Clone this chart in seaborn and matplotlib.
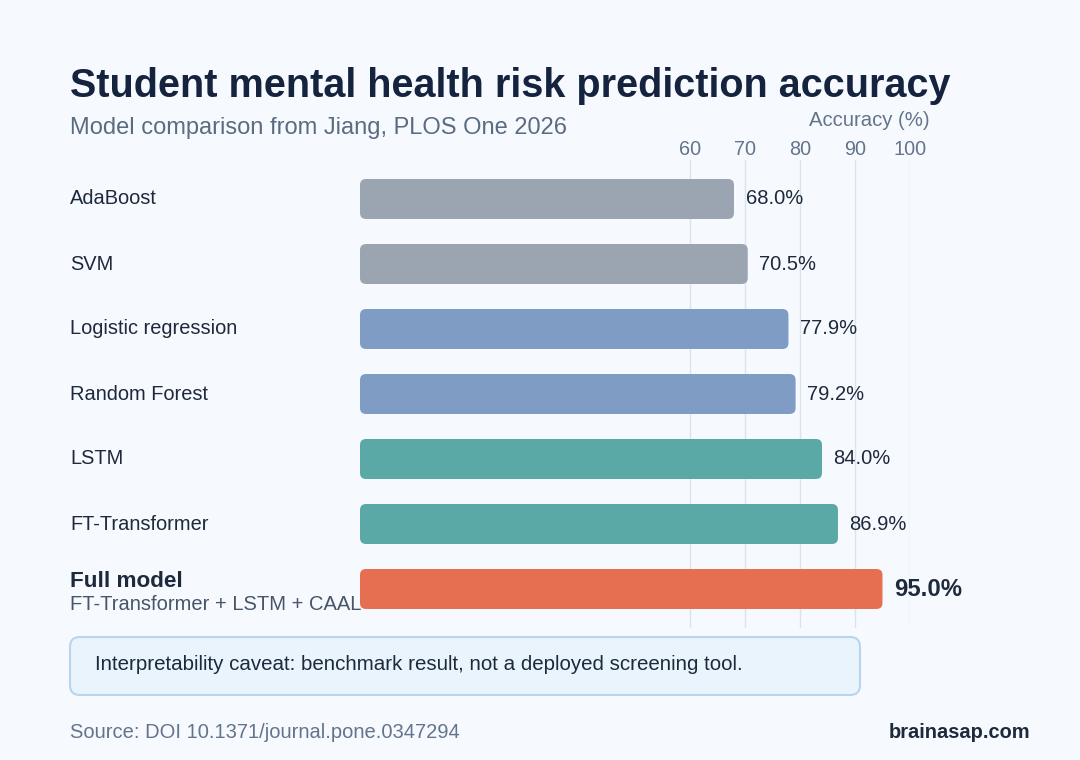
import matplotlib
matplotlib.use("Agg")
import matplotlib.pyplot as plt
import matplotlib.transforms as mtransforms
from matplotlib.patches import FancyBboxPatch
import seaborn as sns
import pandas as pd

models = ["AdaBoost", "SVM", "Logistic regression", "Random Forest", "LSTM",
          "FT-Transformer", "Full model"]
accuracy = [68.0, 70.5, 77.9, 79.2, 84.0, 86.9, 95.0]
bar_colors = ["#9ba5b1", "#9ba5b1", "#7f9cc5", "#7f9cc5", "#5aa9a6", "#5aa9a6", "#e76f51"]
x_ticks = [60, 70, 80, 90, 100]
full_model_sub = "FT-Transformer + LSTM + CAAL"

title = "Student mental health risk prediction accuracy"
subtitle = "Model comparison from Jiang, PLOS One 2026"
axis_label = "Accuracy (%)"
caveat = "Interpretability caveat: benchmark result, not a deployed screening tool."
source = "Source: DOI 10.1371/journal.pone.0347294"
brand = "brainasap.com"

BG = "#f6faff"
DARK = "#1e293b"
GRAY = "#64748b"

sns.set_theme(style="white")
plt.rcParams["font.family"] = ["Liberation Sans", "DejaVu Sans"]

df = pd.DataFrame({"model": models, "acc": accuracy})

fig = plt.figure(figsize=(10.8, 7.6), dpi=100, facecolor=BG)
ax = fig.add_axes([360 / 1080, 1 - 628 / 760, 550 / 1080, 468 / 760])
ax.set_facecolor(BG)

sns.barplot(data=df, y="model", x="acc", hue="model", palette=bar_colors,
            order=models, hue_order=models, legend=False, width=0.615,
            saturation=1, ax=ax, orient="h", zorder=3)

ax.set_xlim(0, 100)
ax.set_ylim(6.6, -0.6)

# replace bars with rounded ones
px_x = 100 / 550.0
px_y = 1 / 65.0
r_px = 6
for p in list(ax.patches):
    x0, y0 = p.get_x(), p.get_y()
    w, h = p.get_width(), p.get_height()
    fc = p.get_facecolor()
    p.remove()
    fb = FancyBboxPatch((x0, y0), w, h,
                        boxstyle=f"round,pad=0,rounding_size={r_px * px_x}",
                        mutation_aspect=px_y / px_x,
                        facecolor=fc, edgecolor="none", zorder=3)
    ax.add_patch(fb)

# grid
for t in x_ticks:
    ax.axvline(t, color="#dbe4ee", lw=1, zorder=1)

ax.set_xticks(x_ticks)
ax.xaxis.tick_top()
ax.tick_params(axis="x", length=0, pad=1, labelsize=14.3, labelcolor=GRAY)
ax.set_yticks([])
ax.set_xlabel("")
ax.set_ylabel("")
for s in ax.spines.values():
    s.set_visible(False)

# value labels
for i, v in enumerate(accuracy):
    last = i == len(accuracy) - 1
    ax.annotate(f"{v:.1f}%", xy=(v, i), xytext=(8.3, 0),
                textcoords="offset points", va="center", ha="left",
                fontsize=17.2 if last else 14.5, fontweight="bold" if last else "normal",
                color=DARK, zorder=4)

# category labels
tr = mtransforms.blended_transform_factory(fig.transFigure, ax.transData)
for i, m in enumerate(models):
    if i == len(models) - 1:
        ax.text(70 / 1080, i - 0.12, m, transform=tr, ha="left", va="center",
                fontsize=16.2, fontweight="bold", color=DARK)
        ax.text(70 / 1080, i + 0.24, full_model_sub, transform=tr, ha="left",
                va="center", fontsize=14.5, color="#475569")
    else:
        ax.text(70 / 1080, i, m, transform=tr, ha="left", va="center",
                fontsize=14.4, color=DARK)

# titles
fig.text(70 / 1080, 1 - 86 / 760, title, ha="left", va="center", fontsize=28.5,
         fontweight="bold", color="#15233f")
fig.text(70 / 1080, 1 - 128 / 760, subtitle, ha="left", va="center", fontsize=17,
         color="#5b6b80")
fig.text(930 / 1080, 1 - 121 / 760, axis_label, ha="right", va="center",
         fontsize=14.6, color=GRAY)

# caveat box
box = FancyBboxPatch((70 / 1080, 1 - 695 / 760), 790 / 1080, 58 / 760,
                     boxstyle="round,pad=0,rounding_size=0.009",
                     mutation_aspect=1080 / 760,
                     transform=fig.transFigure, facecolor="#eaf4fd",
                     edgecolor="#b9d5ee", lw=1.5)
fig.patches.append(box)
fig.text(95 / 1080, 1 - 664 / 760, caveat, ha="left", va="center", fontsize=14.8,
         color=DARK)

fig.text(70 / 1080, 1 - 732 / 760, source, ha="left", va="center", fontsize=14.5,
         color=GRAY)
fig.text(1030 / 1080, 1 - 732 / 760, brand, ha="right", va="center", fontsize=14.4,
         fontweight="bold", color=DARK)

fig.savefig("out.png", dpi=100, facecolor=BG)
